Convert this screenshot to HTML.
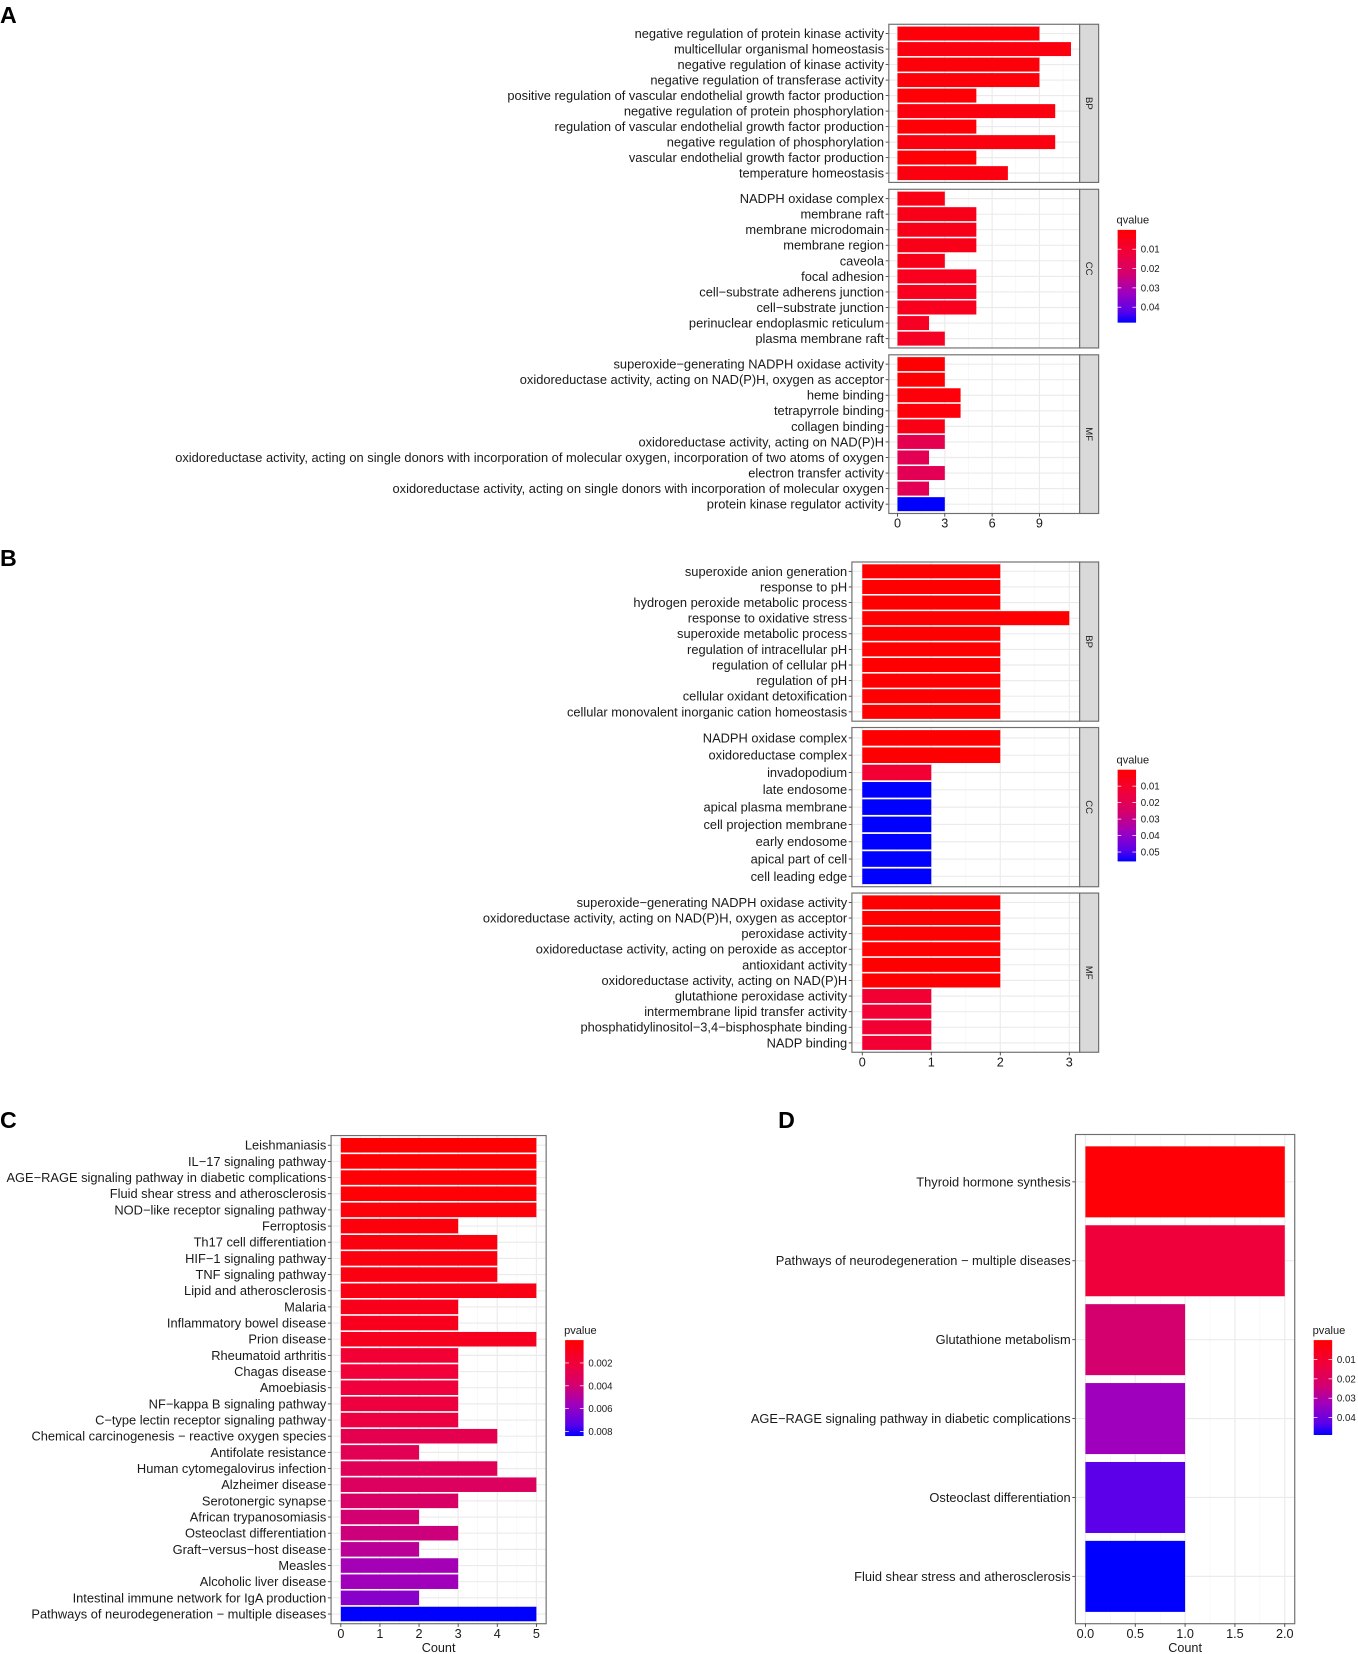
<!DOCTYPE html>
<html><head><meta charset="utf-8"><style>
html,body{margin:0;padding:0;background:#fff;}
svg{display:block;font-family:"Liberation Sans",sans-serif;}
</style></head><body>
<svg id="fig" width="1358" height="1654" viewBox="0 0 1288 1568.7" xmlns="http://www.w3.org/2000/svg">
<defs>
<linearGradient id="grad" x1="0" y1="0" x2="0" y2="1">
<stop offset="0" stop-color="#ff0000"/><stop offset="0.25" stop-color="#f0003c"/><stop offset="0.47" stop-color="#d4006e"/><stop offset="0.67" stop-color="#a000bc"/><stop offset="0.88" stop-color="#5a00ea"/><stop offset="1" stop-color="#0000ff"/>
</linearGradient>
</defs>
<text x="0" y="22" font-size="22" font-weight="bold">A</text>
<text x="0" y="537" font-size="22" font-weight="bold">B</text>
<text x="0" y="1070" font-size="22" font-weight="bold">C</text>
<text x="738" y="1070" font-size="22" font-weight="bold">D</text>
</svg>
<script>
// ---- Panel A data ----
const aBPLabels = ["negative regulation of protein kinase activity","multicellular organismal homeostasis","negative regulation of kinase activity","negative regulation of transferase activity","positive regulation of vascular endothelial growth factor production","negative regulation of protein phosphorylation","regulation of vascular endothelial growth factor production","negative regulation of phosphorylation","vascular endothelial growth factor production","temperature homeostasis"];
const aBPCounts = [9,11,9,9,5,10,5,10,5,7];
const aBPq = [0.002,0.003,0.002,0.002,0.001,0.003,0.001,0.003,0.001,0.003];
const aCCLabels = ["NADPH oxidase complex","membrane raft","membrane microdomain","membrane region","caveola","focal adhesion","cell\u2212substrate adherens junction","cell\u2212substrate junction","perinuclear endoplasmic reticulum","plasma membrane raft"];
const aCCCounts = [3,5,5,5,3,5,5,5,2,3];
const aCCq = [0.004,0.005,0.005,0.005,0.005,0.006,0.006,0.006,0.007,0.007];
const aMFLabels = ["superoxide\u2212generating NADPH oxidase activity","oxidoreductase activity, acting on NAD(P)H, oxygen as acceptor","heme binding","tetrapyrrole binding","collagen binding","oxidoreductase activity, acting on NAD(P)H","oxidoreductase activity, acting on single donors with incorporation of molecular oxygen, incorporation of two atoms of oxygen","electron transfer activity","oxidoreductase activity, acting on single donors with incorporation of molecular oxygen","protein kinase regulator activity"];
const aMFCounts = [3,3,4,4,3,3,2,3,2,3];
const aMFq = [0.0005,0.0005,0.002,0.002,0.004,0.016,0.017,0.017,0.017,0.048];
const aTicks = [0,3,6,9];
const aLegendTicks = [0.01,0.02,0.03,0.04];
// ---- Panel B data ----
const bBPLabels = ["superoxide anion generation","response to pH","hydrogen peroxide metabolic process","response to oxidative stress","superoxide metabolic process","regulation of intracellular pH","regulation of cellular pH","regulation of pH","cellular oxidant detoxification","cellular monovalent inorganic cation homeostasis"];
const bBPCounts = [2,2,2,3,2,2,2,2,2,2];
const bBPq = [0.0005,0.0005,0.0005,0.0005,0.0005,0.0005,0.0005,0.0005,0.0005,0.0005];
const bCCLabels = ["NADPH oxidase complex","oxidoreductase complex","invadopodium","late endosome","apical plasma membrane","cell projection membrane","early endosome","apical part of cell","cell leading edge"];
const bCCCounts = [2,2,1,1,1,1,1,1,1];
const bCCq = [0.0005,0.0005,0.012,0.0557,0.0557,0.0557,0.0557,0.0557,0.0557];
const bMFLabels = ["superoxide\u2212generating NADPH oxidase activity","oxidoreductase activity, acting on NAD(P)H, oxygen as acceptor","peroxidase activity","oxidoreductase activity, acting on peroxide as acceptor","antioxidant activity","oxidoreductase activity, acting on NAD(P)H","glutathione peroxidase activity","intermembrane lipid transfer activity","phosphatidylinositol\u22123,4\u2212bisphosphate binding","NADP binding"];
const bMFCounts = [2,2,2,2,2,2,1,1,1,1];
const bMFq = [0.0005,0.0005,0.0005,0.0005,0.0005,0.0005,0.012,0.012,0.012,0.012];
const bTicks = [0,1,2,3];
const bLegendTicks = [0.01,0.02,0.03,0.04,0.05];
// ---- Panel C data ----
const cLabels = ["Leishmaniasis","IL\u221217 signaling pathway","AGE\u2212RAGE signaling pathway in diabetic complications","Fluid shear stress and atherosclerosis","NOD\u2212like receptor signaling pathway","Ferroptosis","Th17 cell differentiation","HIF\u22121 signaling pathway","TNF signaling pathway","Lipid and atherosclerosis","Malaria","Inflammatory bowel disease","Prion disease","Rheumatoid arthritis","Chagas disease","Amoebiasis","NF\u2212kappa B signaling pathway","C\u2212type lectin receptor signaling pathway","Chemical carcinogenesis \u2212 reactive oxygen species","Antifolate resistance","Human cytomegalovirus infection","Alzheimer disease","Serotonergic synapse","African trypanosomiasis","Osteoclast differentiation","Graft\u2212versus\u2212host disease","Measles","Alcoholic liver disease","Intestinal immune network for IgA production","Pathways of neurodegeneration \u2212 multiple diseases"];
const cCounts = [5,5,5,5,5,3,4,4,4,5,3,3,5,3,3,3,3,3,4,2,4,5,3,2,3,2,3,3,2,5];
const cP = [0.0001,0.0001,0.0002,0.0002,0.0003,0.0004,0.0005,0.0005,0.0006,0.0007,0.0009,0.001,0.0011,0.0018,0.002,0.0021,0.0022,0.0023,0.0028,0.003,0.0031,0.0034,0.0036,0.004,0.0042,0.0048,0.0055,0.0056,0.0062,0.0084];
const cTicks = [0,1,2,3,4,5];
const cLegendTicks = [0.002,0.004,0.006,0.008];
// ---- Panel D data ----
const dLabels = ["Thyroid hormone synthesis","Pathways of neurodegeneration \u2212 multiple diseases","Glutathione metabolism","AGE\u2212RAGE signaling pathway in diabetic complications","Osteoclast differentiation","Fluid shear stress and atherosclerosis"];
const dCounts = [2,2,1,1,1,1];
const dP = [0.001,0.012,0.023,0.033,0.043,0.049];
const dTicks = [0,0.5,1,1.5,2];
const dLegendTicks = [0.01,0.02,0.03,0.04];

const NS="http://www.w3.org/2000/svg";
const svg=document.getElementById('fig');
const stops=[[0,[255,0,0]],[0.25,[240,0,60]],[0.47,[212,0,110]],[0.67,[160,0,188]],[0.88,[90,0,234]],[1,[0,0,255]]];
function colorOf(t){t=Math.max(0,Math.min(1,t));for(let i=1;i<stops.length;i++){if(t<=stops[i][0]){const a=stops[i-1],b=stops[i];const f=(t-a[0])/(b[0]-a[0]);const c=a[1].map((v,k)=>Math.round(v+(b[1][k]-v)*f));return 'rgb('+c.join(',')+')';}}return 'rgb(0,0,255)';}
function mk(tag,attrs,parent){const e=document.createElementNS(NS,tag);for(const k in attrs)e.setAttribute(k,attrs[k]);(parent||svg).appendChild(e);return e;}

function facet(p){
  // p: x0,x1,top,bottom,labels,counts,vals,vmax,dmax,ticks,minor,strip,showTicks,name,barFrac
  const g=mk('g',{});
  
  
  const xs=v=>p.x0+(v+0.05*p.dmax)*(p.x1-p.x0)/(1.1*p.dmax);
  const n=p.labels.length, step=(p.bottom-p.top)/(n+0.2);
  const ys=i=>p.top+(0.6+i)*step;
  mk('rect',{x:p.x0,y:p.top,width:p.x1-p.x0,height:p.bottom-p.top,fill:'#fff'},g);
  p.minor.forEach(v=>mk('line',{x1:xs(v),x2:xs(v),y1:p.top,y2:p.bottom,stroke:'#f4f4f4','stroke-width':0.6},g));
  p.ticks.forEach(v=>mk('line',{x1:xs(v),x2:xs(v),y1:p.top,y2:p.bottom,stroke:'#ebebeb','stroke-width':1.1},g));
  for(let i=0;i<n;i++)mk('line',{x1:p.x0,x2:p.x1,y1:ys(i),y2:ys(i),stroke:'#ebebeb','stroke-width':1.1},g);
  for(let i=0;i<n;i++){
    const bh=step*0.9;
    const r=mk('rect',{x:xs(0),y:ys(i)-bh/2,width:xs(p.counts[i])-xs(0),height:bh,fill:colorOf(p.vals[i]/p.vmax)},g);
    
    
    mk('line',{x1:p.x0-3,x2:p.x0,y1:ys(i),y2:ys(i),stroke:'#333','stroke-width':0.8},g);
    const t=mk('text',{x:p.x0-4.5,y:ys(i)+4.2,'font-size':12.2,'text-anchor':'end',fill:'#1a1a1a'},g);
    t.textContent=p.labels[i];
    
    
  }
  mk('rect',{x:p.x0,y:p.top,width:p.x1-p.x0,height:p.bottom-p.top,fill:'none',stroke:'#6e6e6e','stroke-width':1.1},g);
  if(p.strip){
    mk('rect',{x:p.x1,y:p.top,width:18,height:p.bottom-p.top,fill:'#d9d9d9',stroke:'#6e6e6e','stroke-width':1.1},g);
    const cy=(p.top+p.bottom)/2;
    const st=mk('text',{x:p.x1+9,y:cy,'font-size':9,'text-anchor':'middle',fill:'#1a1a1a',transform:'rotate(90 '+(p.x1+9)+' '+cy+') translate(0 3)'},g);
    st.textContent=p.strip;
    
    
  }
  if(p.showTicks){
    p.ticks.forEach(v=>{
      mk('line',{x1:xs(v),x2:xs(v),y1:p.bottom,y2:p.bottom+3,stroke:'#333','stroke-width':0.8},g);
      const t=mk('text',{x:xs(v),y:p.bottom+13.5,'font-size':12,'text-anchor':'middle',fill:'#1a1a1a'},g);
      t.textContent=p.tickFmt?p.tickFmt(v):String(v);
      
      
    });
    if(p.axisTitle){
      const at=mk('text',{x:(p.x0+p.x1)/2,y:p.bottom+27,'font-size':12,'text-anchor':'middle',fill:'#1a1a1a'},g);
      at.textContent=p.axisTitle;
      
      
    }
  }
}
function legend(l){
  const g=mk('g',{});
  
  
  const t=mk('text',{x:l.x-1,y:l.top-6,'font-size':10.5,fill:'#1a1a1a'},g);
  t.textContent=l.title;
  mk('rect',{x:l.x,y:l.top,width:17.5,height:l.bottom-l.top,fill:'url(#grad)'},g);
  const ys=v=>l.top+v/l.vmax*(l.bottom-l.top);
  l.ticks.forEach(v=>{
    mk('line',{x1:l.x,x2:l.x+3.5,y1:ys(v),y2:ys(v),stroke:'#fff','stroke-width':0.7},g);
    mk('line',{x1:l.x+14,x2:l.x+17.5,y1:ys(v),y2:ys(v),stroke:'#fff','stroke-width':0.7},g);
    const tt=mk('text',{x:l.x+22,y:ys(v)+3.3,'font-size':9.2,fill:'#1a1a1a'},g);
    tt.textContent=String(v);
  });
}
const mA=[1.5,4.5,7.5,10.5], mB=[0.5,1.5,2.5], mC=[0.5,1.5,2.5,3.5,4.5], mD=[0.25,0.75,1.25,1.75];
facet({name:'a-bp',x0:843,x1:1024,top:23,bottom:173,labels:aBPLabels,counts:aBPCounts,vals:aBPq,vmax:0.048,dmax:11,ticks:aTicks,minor:mA,strip:'BP'});
facet({name:'a-cc',x0:843,x1:1024,top:179.5,bottom:330,labels:aCCLabels,counts:aCCCounts,vals:aCCq,vmax:0.048,dmax:11,ticks:aTicks,minor:mA,strip:'CC'});
facet({name:'a-mf',x0:843,x1:1024,top:336.5,bottom:487,labels:aMFLabels,counts:aMFCounts,vals:aMFq,vmax:0.048,dmax:11,ticks:aTicks,minor:mA,strip:'MF',showTicks:true});
legend({name:'legend-a',title:'qvalue',x:1060,top:218,bottom:306,vmax:0.048,ticks:aLegendTicks});
facet({name:'b-bp',x0:808,x1:1024,top:533,bottom:684,labels:bBPLabels,counts:bBPCounts,vals:bBPq,vmax:0.0557,dmax:3,ticks:bTicks,minor:mB,strip:'BP'});
facet({name:'b-cc',x0:808,x1:1024,top:690,bottom:841,labels:bCCLabels,counts:bCCCounts,vals:bCCq,vmax:0.0557,dmax:3,ticks:bTicks,minor:mB,strip:'CC'});
facet({name:'b-mf',x0:808,x1:1024,top:847,bottom:998,labels:bMFLabels,counts:bMFCounts,vals:bMFq,vmax:0.0557,dmax:3,ticks:bTicks,minor:mB,strip:'MF',showTicks:true});
legend({name:'legend-b',title:'qvalue',x:1060,top:730,bottom:817,vmax:0.0557,ticks:bLegendTicks});
facet({name:'c-kegg',x0:314,x1:518,top:1077,bottom:1540,labels:cLabels,counts:cCounts,vals:cP,vmax:0.0084,dmax:5,ticks:cTicks,minor:mC,showTicks:true,axisTitle:'Count'});
legend({name:'legend-c',title:'pvalue',x:536,top:1271,bottom:1362,vmax:0.0084,ticks:cLegendTicks});
facet({name:'d-kegg',x0:1020,x1:1228,top:1076,bottom:1540,labels:dLabels,counts:dCounts,vals:dP,vmax:0.049,dmax:2,ticks:dTicks,minor:mD,showTicks:true,axisTitle:'Count',tickFmt:v=>v.toFixed(1)});
legend({name:'legend-d',title:'pvalue',x:1246,top:1271,bottom:1361,vmax:0.049,ticks:dLegendTicks});
</script>
</body></html>
